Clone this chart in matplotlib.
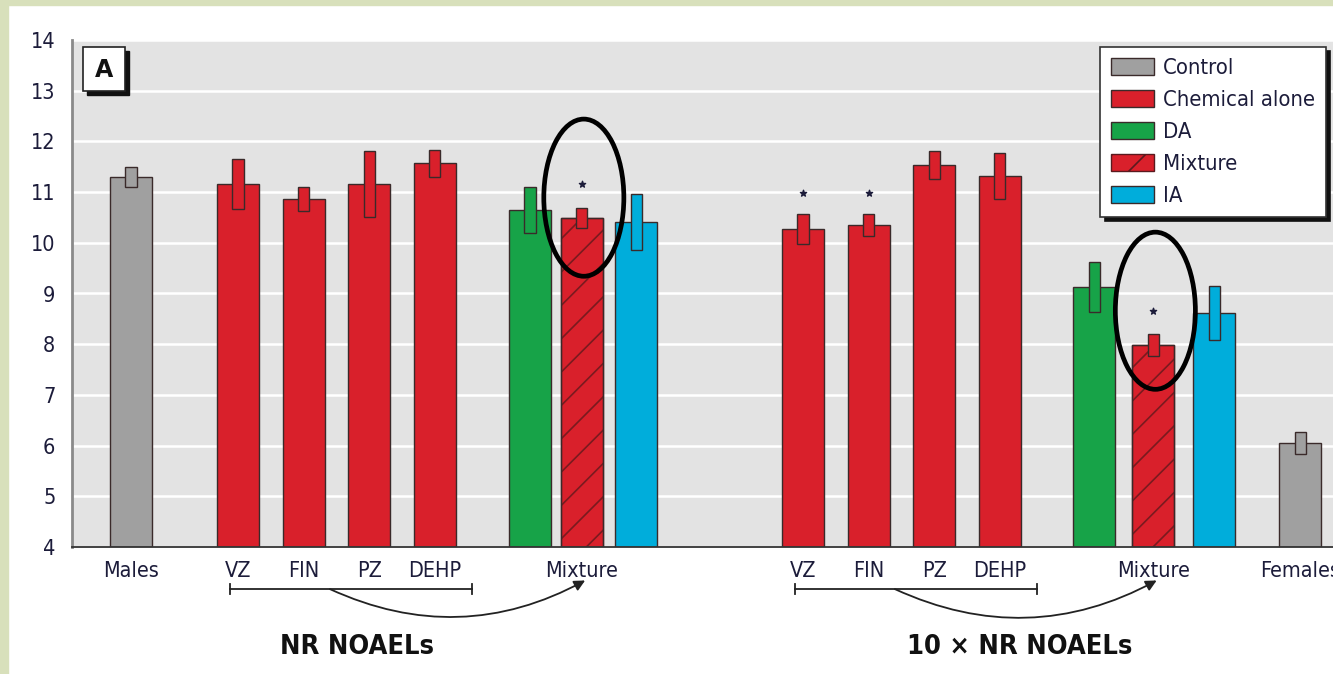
import matplotlib.pyplot as plt
import numpy as np
from matplotlib.patches import Patch, Ellipse, Rectangle

plt.rcParams['font.family'] = ['DejaVu Sans']
plt.rcParams['font.stretch'] = 'condensed'
plt.rcParams['hatch.linewidth'] = 1.2

# control animals
control_names = ['Males', 'Females']
control_mean = [11.30, 6.05]
control_err = [0.20, 0.21]

# single chemicals at NR NOAELs and at 10x NR NOAELs
chem_names = ['VZ', 'FIN', 'PZ', 'DEHP']
chem_nr_mean = [11.16, 10.86, 11.16, 11.57]
chem_nr_err = [0.50, 0.24, 0.66, 0.27]
chem_10x_mean = [10.27, 10.35, 11.53, 11.32]
chem_10x_err = [0.30, 0.22, 0.28, 0.45]
chem_10x_sig = [True, True, False, False]

# mixture vs. predictions (DA, observed mixture, IA)
mix_names = ['DA', 'Mixture', 'IA']
mix_nr_mean = [10.65, 10.49, 10.41]
mix_nr_err = [0.45, 0.20, 0.56]
mix_10x_mean = [9.13, 7.98, 8.62]
mix_10x_err = [0.50, 0.22, 0.53]

legend_labels = ['Control', 'Chemical alone', 'DA', 'Mixture', 'IA']

GRAY = '#a0a0a0'
RED = '#d9202b'
GREEN = '#17a348'
BLUE = '#00addb'
EDGE = '#3a2a2a'
TXT = '#1c1c3a'
mix_colors = {'DA': GREEN, 'Mixture': RED, 'IA': BLUE}

# bar positions (units of bar spacing)
x_males = 0.0
x_chem_nr = 1.63 + np.arange(4) * 1.0
x_mix_nr = np.array([6.08, 6.87, 7.70])
x_chem_10x = 10.24 + np.arange(4) * 1.0
x_mix_10x = np.array([14.68, 15.58, 16.51])
x_females = 17.82
bw = 0.64
ew = 0.17

fig = plt.figure(figsize=(13.33, 6.74), dpi=100)
fig.patches.append(Rectangle((0, 0), 8 / 1333, 1, transform=fig.transFigure,
                             color='#d8e0bb', zorder=0))
fig.patches.append(Rectangle((0, 1 - 5 / 674), 1, 5 / 674, transform=fig.transFigure,
                             color='#d8e0bb', zorder=0))

ax = fig.add_axes([72 / 1333, 127 / 674, 1273 / 1333, 507 / 674])
ax.set_facecolor('#e3e3e3')
ax.set_xlim(-0.9, 18.5)
ax.set_ylim(4, 14)
ax.set_yticks(range(4, 15))
ax.yaxis.grid(True, color='white', lw=1.8)
ax.set_axisbelow(True)
for s in ['top', 'right']:
    ax.spines[s].set_visible(False)
ax.spines['left'].set_color('#8a8a8a')
ax.spines['left'].set_linewidth(2)
ax.spines['bottom'].set_color('#333333')
ax.spines['bottom'].set_linewidth(1.3)
ax.tick_params(length=0, labelcolor=TXT)
ax.tick_params(axis='y', pad=12, labelsize=15.5)
ax.tick_params(axis='x', pad=10, labelsize=15.5)


def draw_bar(x, m, e, color, hatch=None):
    ax.bar(x, m - 4, bottom=4, width=bw, color=color, edgecolor=EDGE if hatch is None else '#7a1a1f',
           lw=1.0, hatch=hatch, zorder=2)
    if hatch:
        ax.bar(x, m - 4, bottom=4, width=bw, color='none', edgecolor=EDGE, lw=1.0, zorder=2)
    ax.bar(x, 2 * e, bottom=m - e, width=ew, color=color, edgecolor=EDGE, lw=1.0, zorder=3)


def star(x, y):
    ax.scatter([x], [y], marker='*', s=22, color=TXT, zorder=4)


draw_bar(x_males, control_mean[0], control_err[0], GRAY)
draw_bar(x_females, control_mean[1], control_err[1], GRAY)
for i in range(4):
    draw_bar(x_chem_nr[i], chem_nr_mean[i], chem_nr_err[i], RED)
    draw_bar(x_chem_10x[i], chem_10x_mean[i], chem_10x_err[i], RED)
    if chem_10x_sig[i]:
        star(x_chem_10x[i], chem_10x_mean[i] + chem_10x_err[i] + 0.41)
for i, name in enumerate(mix_names):
    hatch = '/' if name == 'Mixture' else None
    draw_bar(x_mix_nr[i], mix_nr_mean[i], mix_nr_err[i], mix_colors[name], hatch)
    draw_bar(x_mix_10x[i], mix_10x_mean[i], mix_10x_err[i], mix_colors[name], hatch)

# significance stars and rings around the mixture results
for xs, means, errs, dy in [(x_mix_nr, mix_nr_mean, mix_nr_err, -0.26),
                            (x_mix_10x, mix_10x_mean, mix_10x_err, 0.0)]:
    sy = means[1] + errs[1] + 0.46
    star(xs[1], sy)
    ax.add_patch(Ellipse((xs[1] + 0.03, sy + dy), 1.22, 3.1, fill=False,
                         edgecolor='black', lw=3.4, zorder=5))

xticks = [x_males, *x_chem_nr, x_mix_nr[1], *x_chem_10x, x_mix_10x[1], x_females]
xlabels = [control_names[0], *chem_names, 'Mixture', *chem_names, 'Mixture', control_names[1]]
ax.set_xticks(xticks)
ax.set_xticklabels(xlabels)

# brackets and arrows pointing from single chemicals to the mixture
yb = 3.17
for xc, xm in [(x_chem_nr, x_mix_nr), (x_chem_10x, x_mix_10x)]:
    x0, x1 = xc[0] - 0.12, xc[-1] + 0.57
    ax.plot([x0, x1], [yb, yb], color='#222222', lw=1.3, clip_on=False)
    ax.plot([x0, x0], [yb - 0.1, yb + 0.1], color='#222222', lw=1.3, clip_on=False)
    ax.plot([x1, x1], [yb - 0.1, yb + 0.1], color='#222222', lw=1.3, clip_on=False)
    ax.annotate('', xy=(xm[1] + 0.05, 3.34), xytext=(xc[1] + 0.4, yb),
                arrowprops=dict(arrowstyle='-|>', color='#222222', lw=1.3,
                                mutation_scale=16, shrinkA=0, shrinkB=0,
                                connectionstyle='arc3,rad=0.25'),
                annotation_clip=False)

fig.text(357 / 1333, 1 - 647 / 674, 'NR NOAELs', ha='center', va='center',
         fontsize=19.5, fontweight='bold', color='#111111')
fig.text(1020 / 1333, 1 - 647 / 674, '10 \u00d7 NR NOAELs', ha='center', va='center',
         fontsize=19.5, fontweight='bold', color='#111111')

# panel letter box with shadow
fig.patches.append(Rectangle((87 / 1333, 1 - 95 / 674), 42 / 1333, 44 / 674,
                             transform=fig.transFigure, color='#111111', zorder=5))
fig.patches.append(Rectangle((83 / 1333, 1 - 91 / 674), 42 / 1333, 44 / 674,
                             transform=fig.transFigure, facecolor='white',
                             edgecolor='#222222', lw=1.2, zorder=6))
fig.text(104 / 1333, 1 - 70 / 674, 'A', ha='center', va='center', fontsize=17,
         fontweight='bold', color='#111111', fontstretch='normal', zorder=7)

handles = [Patch(facecolor=GRAY, edgecolor=EDGE),
           Patch(facecolor=RED, edgecolor=EDGE),
           Patch(facecolor=GREEN, edgecolor=EDGE),
           Patch(facecolor=RED, edgecolor='#5a1a1f', hatch='/'),
           Patch(facecolor=BLUE, edgecolor=EDGE)]
leg = ax.legend(handles, legend_labels, loc='upper right',
                bbox_to_anchor=(1326 / 1333, 1 - 47 / 674), bbox_transform=fig.transFigure,
                borderaxespad=0, fancybox=False,
                shadow={'color': '#111111', 'alpha': 1, 'ox': 3, 'oy': -3},
                fontsize=15.8, handlelength=1.95, handleheight=0.8, labelspacing=0.55,
                handletextpad=0.4, borderpad=0.5, framealpha=1)
leg.get_frame().set_edgecolor('#333333')
leg.get_frame().set_linewidth(1.2)
for t in leg.get_texts():
    t.set_color(TXT)
leg.set_zorder(10)

fig.savefig('out.png', dpi=100)
